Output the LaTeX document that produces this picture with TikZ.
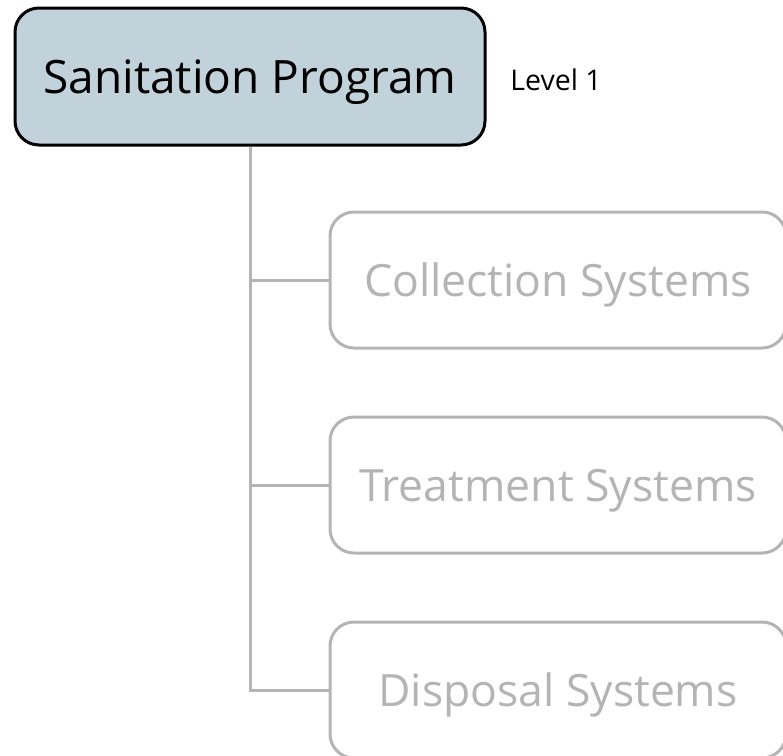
\documentclass[tikz,border=0pt]{standalone}
\usepackage{fontspec}
\setmainfont{Open Sans}
\definecolor{rootfill}{HTML}{C2D2DA}
\definecolor{dimgray}{HTML}{B4B4B4}
\tikzset{
  rootbox/.style={draw=black, line width=3pt, fill=rootfill, rounded corners=24pt,
    minimum width=470pt, minimum height=137pt, inner sep=0pt, text depth=0pt,
    font=\fontsize{46}{52}\selectfont},
  childbox/.style={draw=dimgray, line width=3pt, rounded corners=24pt,
    minimum width=456pt, minimum height=136pt, inner sep=0pt, text depth=0pt,
    text=dimgray, font=\fontsize{44.5}{50}\selectfont},
  conn/.style={draw=dimgray, line width=3pt},
  levellabel/.style={font=\fontsize{28.5}{32}\selectfont, inner sep=0pt, anchor=base}
}
\begin{document}
\begin{tikzpicture}[x=1pt, y=-1pt]
  \useasboundingbox (0,0) rectangle (783,755);
  \node[rootbox] (root) at (250,76.5) {Sanitation Program};
  \node[levellabel] (lvl) at (556,90) {Level 1};
  \node[childbox] (col) at (558,280) {Collection Systems};
  \node[childbox] (tre) at (558,485) {Treatment Systems};
  \node[childbox] (dis) at (558,690) {Disposal Systems};
  \draw[conn] (root.south) -- (root.south |- dis.west) -- (dis.west);
  \draw[conn] (root.south |- col.west) -- (col.west);
  \draw[conn] (root.south |- tre.west) -- (tre.west);
\end{tikzpicture}
\end{document}
